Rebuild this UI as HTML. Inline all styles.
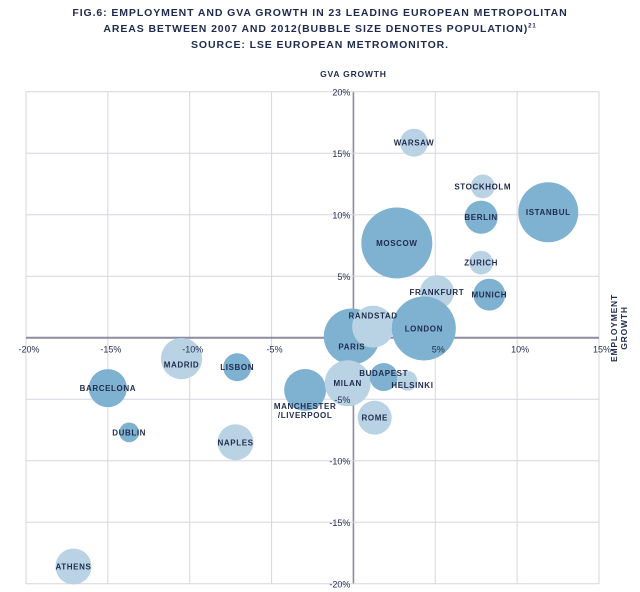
<!DOCTYPE html>
<html><head><meta charset="utf-8"><style>
html,body{margin:0;padding:0;background:#fff;}
body{width:640px;height:592px;overflow:hidden;font-family:"Liberation Sans",sans-serif;}
.t{position:absolute;left:0;width:640px;text-align:center;font-weight:bold;font-size:10.5px;letter-spacing:0.9px;color:#1f2b4d;}
svg text{font-family:"Liberation Sans",sans-serif;}
</style></head><body>
<div class="t" style="top:7px">FIG.6: EMPLOYMENT AND GVA GROWTH IN 23 LEADING EUROPEAN METROPOLITAN</div>
<div class="t" style="top:23px">AREAS BETWEEN 2007 AND 2012(BUBBLE SIZE DENOTES POPULATION)<sup style="font-size:6px">21</sup></div>
<div class="t" style="top:39px">SOURCE: LSE EUROPEAN METROMONITOR.</div>
<svg id="chart" width="640" height="592" style="position:absolute;left:0;top:0"></svg>
<script>
const cities=["WARSAW","STOCKHOLM","ISTANBUL","BERLIN","MOSCOW","ZURICH","FRANKFURT","MUNICH","PARIS","RANDSTAD","LONDON","MADRID","LISBON","BARCELONA","MANCHESTER","MILAN","BUDAPEST","HELSINKI","ROME","DUBLIN","NAPLES","ATHENS"];
const employment=[3.7,7.9,11.9,7.8,2.65,7.8,5.1,8.3,-0.1,1.2,4.3,-10.5,-7.1,-15.0,-2.95,-0.35,1.85,3.3,1.3,-13.7,-7.2,-17.1];
const gva=[15.85,12.3,10.2,9.8,7.7,6.1,3.7,3.5,0.1,0.9,0.75,-1.7,-2.4,-4.1,-4.25,-3.7,-3.2,-3.5,-6.5,-7.7,-8.5,-18.6];
const population=[4,2.9,18.4,5.6,25.7,2.9,5.9,5.2,16,9,20.9,8.7,4,7.4,9,10.8,4,2,5.9,2,6.6,6.6];
const shade=["l","l","d","d","d","l","l","d","d","l","d","l","d","d","d","l","d","l","l","d","l","l"];
const xTicks=[-20,-15,-10,-5,5,10,15];
const yTicks=[20,15,10,5,-5,-10,-15,-20];
const xTickLabels=["-20%","-15%","-10%","-5%","5%","10%","15%"];
const yTickLabels=["20%","15%","10%","5%","-5%","-10%","-15%","-20%"];
// layout (not data): label offsets in px
const labelOff={RANDSTAD:[0,-11],PARIS:[0,10],MADRID:[0,6],BUDAPEST:[0,-4],HELSINKI:[5,4],MANCHESTER:[0,16],LONDON:[0,0]};
const X0=26,X1=599,Y0=91.7,Y1=583.7;
const x=v=>X0+(v+20)/35*(X1-X0);
const y=v=>Y0+(20-v)/40*(Y1-Y0);
const rad=p=>7*Math.sqrt(p);
const svg=document.getElementById('chart');
const NS="http://www.w3.org/2000/svg";
function mk(tag,at){const e=document.createElementNS(NS,tag);for(const k in at)e.setAttribute(k,at[k]);svg.appendChild(e);return e;}
for(let v=-20;v<=15;v+=5){const l=mk('line',{x1:x(v),x2:x(v),y1:Y0,y2:Y1,stroke:v===0?'#8c8ca3':'#d6d6e0','stroke-width':v===0?1.6:1});

}
for(let v=-20;v<=20;v+=5){const l=mk('line',{x1:X0,x2:X1,y1:y(v),y2:y(v),stroke:v===0?'#8c8ca3':'#d6d6e0','stroke-width':v===0?2:1});

}
cities.forEach((c,i)=>{
const e=mk('circle',{cx:x(employment[i]),cy:y(gva[i]),r:rad(population[i]),fill:shade[i]==='d'?'#7fb1d1':'#b9d3e4'});


});
cities.forEach((c,i)=>{
const o=labelOff[c]||[0,0];
const cx=x(employment[i])+o[0],cy=y(gva[i])+o[1]+3;
if(c==='MANCHESTER'){
['MANCHESTER','/LIVERPOOL'].forEach((s,j)=>{const t=mk('text',{x:cx,y:cy+j*9,'text-anchor':'middle','font-size':8,'font-weight':'bold','letter-spacing':0.6,fill:'#1f2b4d'});t.textContent=s;

});
return;}
const t=mk('text',{x:cx,y:cy,'text-anchor':'middle','font-size':8,'font-weight':'bold','letter-spacing':0.6,fill:'#1f2b4d'});
t.textContent=c;


});
xTicks.forEach((v,i)=>{const t=mk('text',{x:x(v)+3,y:y(0)+15,'text-anchor':'middle','font-size':9,fill:'#1f2b4d'});t.textContent=xTickLabels[i];

});
yTicks.forEach((v,i)=>{const t=mk('text',{x:x(0)-3,y:y(v)+4,'text-anchor':'end','font-size':9,fill:'#1f2b4d'});t.textContent=yTickLabels[i];

});
let a=mk('text',{x:x(0),y:77,'text-anchor':'middle','font-size':8.5,'font-weight':'bold','letter-spacing':0.8,fill:'#1f2b4d'});a.textContent='GVA GROWTH';


const g=mk('g',{transform:'translate(617,328) rotate(-90)'});
['EMPLOYMENT','GROWTH'].forEach((s,j)=>{const t=document.createElementNS(NS,'text');t.setAttribute('x',0);t.setAttribute('y',j*10);t.setAttribute('text-anchor','middle');t.setAttribute('font-size',8.5);t.setAttribute('font-weight','bold');t.setAttribute('letter-spacing',0.8);t.setAttribute('fill','#1f2b4d');t.textContent=s;


g.appendChild(t);});
</script>
</body></html>
